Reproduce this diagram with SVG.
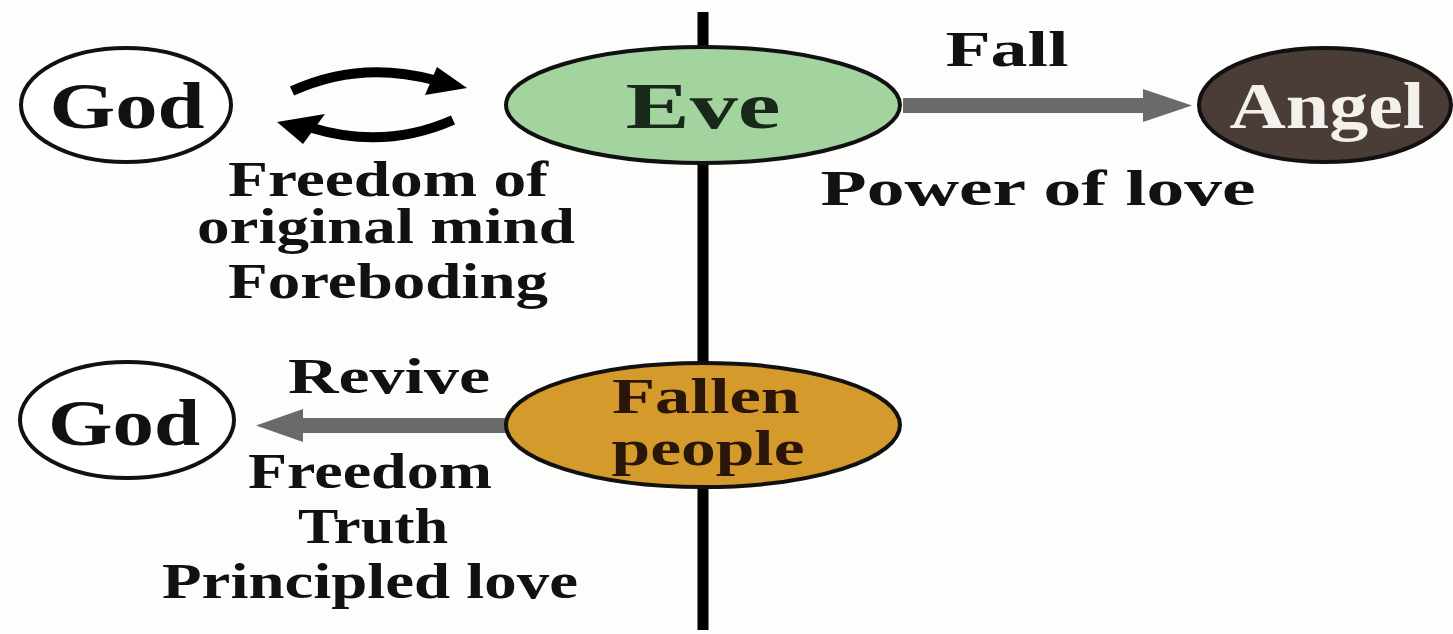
<svg xmlns="http://www.w3.org/2000/svg" width="1453" height="634" viewBox="0 0 1453 634">
<style>
.t{font-family:"Liberation Serif","Times New Roman",serif;font-weight:bold;text-anchor:middle;fill:#111}
.n{font-size:66px}
.l{font-size:50px}
.node{stroke:#111;stroke-width:4}
.gray{fill:#6a6a6a}
.curve{fill:none;stroke:#000;stroke-width:10}
</style>
<rect width="1453" height="634" fill="#fdfdfc"/>
<g id="connectors">
<line x1="703" y1="12" x2="703" y2="630" stroke="#000" stroke-width="11"/>
<path class="curve" d="M292,91 Q360,60 434,80"/>
<path d="M437,67 L467,88 L425,95 Z" fill="#000"/>
<path class="curve" d="M453,120 Q385,150 312,128"/>
<path d="M325,114 L277,122 L303,144 Z" fill="#000"/>
<g id="fall-arrow">
<rect class="gray" x="903" y="98" width="245" height="15"/>
<path class="gray" d="M1143,89 L1192,105.5 L1143,122 Z"/>
</g>
<g id="revive-arrow">
<rect class="gray" x="298" y="418" width="209" height="15"/>
<path class="gray" d="M303,409 L256,425.5 L303,442 Z"/>
</g>
</g>
<g id="god-top">
<ellipse class="node" cx="126" cy="105" rx="105" ry="57" fill="#fff"/>
<text class="t n" x="127" y="128" textLength="155" lengthAdjust="spacingAndGlyphs">God</text>
</g>
<g id="eve">
<ellipse class="node" cx="703" cy="105" rx="197" ry="58" fill="#a3d4a0"/>
<text class="t n" x="703" y="128" textLength="155" lengthAdjust="spacingAndGlyphs" style="fill:#18291a">Eve</text>
</g>
<g id="angel">
<ellipse class="node" cx="1325" cy="105" rx="126" ry="57" fill="#4a3c36"/>
<text class="t n" x="1327" y="128" textLength="195" lengthAdjust="spacingAndGlyphs" style="fill:#f4f0ec">Angel</text>
</g>
<g id="fallen-people">
<ellipse class="node" cx="703" cy="425" rx="197" ry="62" fill="#d49b2c"/>
<text class="t l" x="706" y="413" textLength="188" lengthAdjust="spacingAndGlyphs" style="fill:#2a1608">Fallen</text>
<text class="t l" x="708" y="465" textLength="193" lengthAdjust="spacingAndGlyphs" style="fill:#2a1608">people</text>
</g>
<g id="god-bottom">
<ellipse class="node" cx="127" cy="420" rx="107" ry="58" fill="#fff"/>
<text class="t n" x="124" y="445" textLength="152" lengthAdjust="spacingAndGlyphs">God</text>
</g>
<g id="labels">
<text class="t l" x="1007" y="66" textLength="123" lengthAdjust="spacingAndGlyphs">Fall</text>
<text class="t l" x="1038" y="205" textLength="435" lengthAdjust="spacingAndGlyphs">Power of love</text>
<text class="t l" x="388" y="196" textLength="320" lengthAdjust="spacingAndGlyphs">Freedom of</text>
<text class="t l" x="386" y="243" textLength="378" lengthAdjust="spacingAndGlyphs">original mind</text>
<text class="t l" x="388" y="298" textLength="320" lengthAdjust="spacingAndGlyphs">Foreboding</text>
<text class="t l" x="389" y="393" textLength="202" lengthAdjust="spacingAndGlyphs">Revive</text>
<text class="t l" x="370" y="488" textLength="244" lengthAdjust="spacingAndGlyphs">Freedom</text>
<text class="t l" x="373" y="543" textLength="150" lengthAdjust="spacingAndGlyphs">Truth</text>
<text class="t l" x="370" y="598" textLength="416" lengthAdjust="spacingAndGlyphs">Principled love</text>
</g>
</svg>
